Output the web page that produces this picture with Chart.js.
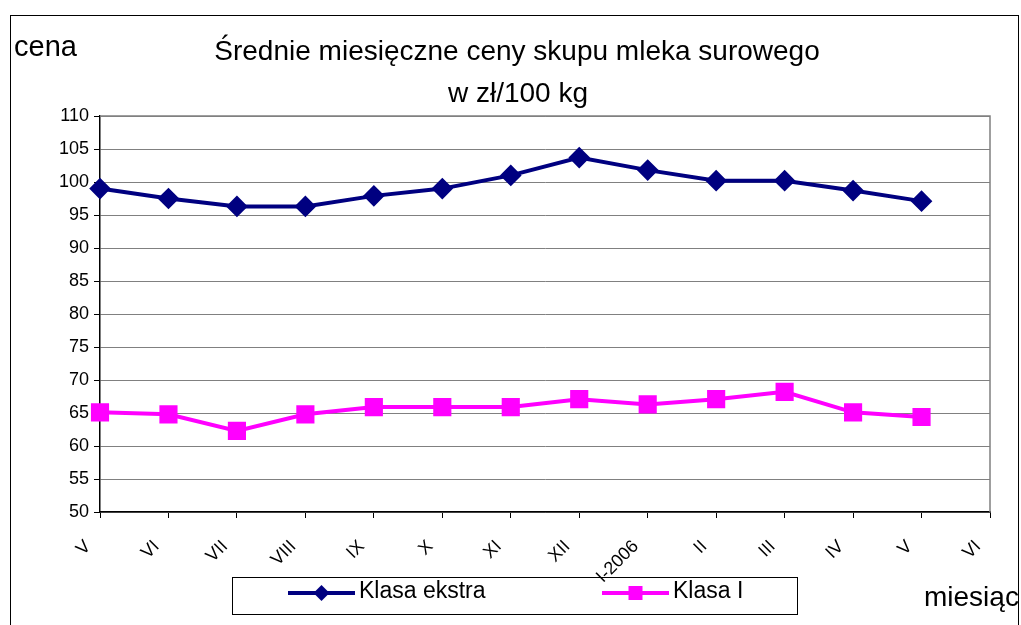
<!DOCTYPE html>
<html>
<head>
<meta charset="utf-8">
<script src="https://cdn.jsdelivr.net/npm/chart.js@4"></script>
<style>
  html, body { margin: 0; padding: 0; background: #fff; }
  #wrap { width: 1021px; height: 625px; position: relative; }
</style>
</head>
<body>
<div id="wrap"><canvas id="milkChart"></canvas></div>
<script>
// --- data ---
const months = ['V', 'VI', 'VII', 'VIII', 'IX', 'X', 'XI', 'XII', 'I-2006', 'II', 'III', 'IV', 'V', 'VI'];
const klasaEkstra = [99.0, 97.5, 96.3, 96.3, 97.9, 99.0, 101.0, 103.7, 101.8, 100.2, 100.2, 98.7, 97.1, null];
const klasaI = [65.1, 64.8, 62.3, 64.8, 65.9, 65.9, 65.9, 67.1, 66.3, 67.1, 68.2, 65.1, 64.4, null];
const seriesNames = ['Klasa ekstra', 'Klasa I'];
const titleLines = ['Średnie miesięczne ceny skupu mleka surowego', 'w zł/100 kg'];

const FONT = "'Liberation Sans', Arial, sans-serif";
Chart.defaults.font.family = FONT;
Chart.defaults.color = '#000';

// frame, title, axis names and the boxed legend (Excel style)
const excelDecor = {
  id: 'excelDecor',
  beforeDraw(chart) {
    const c = chart.ctx;
    c.save();
    c.strokeStyle = '#000';
    c.lineWidth = 1;
    c.strokeRect(10.5, 15.5, 1008, 640);
    c.restore();
  },
  afterDraw(chart) {
    const c = chart.ctx;
    const area = chart.chartArea;
    c.save();
    // plot area top/right edge
    c.strokeStyle = '#808080';
    c.lineWidth = 1.5;
    c.beginPath();
    c.moveTo(area.left, area.top);
    c.lineTo(area.right, area.top);
    c.lineTo(area.right, area.bottom);
    c.stroke();

    c.fillStyle = '#000';
    c.textBaseline = 'middle';
    c.font = '28px ' + FONT;
    c.textAlign = 'center';
    c.fillText(titleLines[0], 517, 52);
    c.fillText(titleLines[1], 518, 94);
    c.textAlign = 'left';
    c.font = '29px ' + FONT;
    c.fillText('cena', 14, 48);
    c.font = '28px ' + FONT;
    c.fillText('miesiąc', 924, 598);

    // legend box
    c.strokeStyle = '#000';
    c.lineWidth = 1;
    c.strokeRect(232.5, 577.5, 565, 37);
    const items = [{x1: 288, x2: 355}, {x1: 602, x2: 669}];
    const y = 593;
    c.font = '23px ' + FONT;
    chart.data.datasets.forEach((ds, i) => {
      const it = items[i];
      const cx = (it.x1 + it.x2) / 2;
      c.strokeStyle = ds.borderColor;
      c.lineWidth = 4;
      c.beginPath();
      c.moveTo(it.x1, y);
      c.lineTo(it.x2, y);
      c.stroke();
      c.fillStyle = ds.backgroundColor;
      c.beginPath();
      if (ds.pointStyle === 'rectRot') {
        c.moveTo(cx, y - 8); c.lineTo(cx + 8, y); c.lineTo(cx, y + 8); c.lineTo(cx - 8, y);
        c.closePath();
      } else {
        c.rect(cx - 7, y - 7, 14, 14);
      }
      c.fill();
      c.fillStyle = '#000';
      c.fillText(ds.label, it.x2 + 4, y - 1);
    });
    c.restore();
  }
};

new Chart(document.getElementById('milkChart').getContext('2d'), {
  type: 'line',
  data: {
    labels: months,
    datasets: [
      {
        label: seriesNames[0],
        data: klasaEkstra,
        borderColor: '#000080',
        backgroundColor: '#000080',
        borderWidth: 4,
        pointStyle: 'rectRot',
        pointRadius: 8,
        pointHoverRadius: 8,
        tension: 0
      },
      {
        label: seriesNames[1],
        data: klasaI,
        borderColor: '#ff00ff',
        backgroundColor: '#ff00ff',
        borderWidth: 4,
        pointStyle: 'rect',
        pointRadius: 10,
        pointHoverRadius: 10,
        tension: 0
      }
    ]
  },
  options: {
    responsive: true,
    maintainAspectRatio: false,
    animation: false,
    layout: { padding: { top: 116, left: 0, right: 31, bottom: 0 } },
    plugins: {
      legend: { display: false },
      title: { display: false },
      tooltip: { enabled: false }
    },
    scales: {
      x: {
        offset: false,
        afterFit: (scale) => {
          scale.height = 113;
          scale.paddingLeft = 0;
          scale.paddingRight = 0;
        },
        grid: { drawOnChartArea: false, drawTicks: true, tickLength: 6, color: '#000' },
        border: { color: '#000', width: 1.5 },
        ticks: { minRotation: 45, maxRotation: 45, autoSkip: false, padding: 18, labelOffset: -12, font: { size: 18 }, color: '#000' }
      },
      y: {
        min: 50,
        max: 110,
        afterFit: (scale) => { scale.width = 100; },
        grid: { color: '#808080', lineWidth: 1, tickLength: 6, tickColor: '#000' },
        border: { color: '#000', width: 1.5 },
        ticks: { stepSize: 5, padding: 5, font: { size: 18 }, color: '#000' }
      }
    }
  },
  plugins: [excelDecor]
});
</script>
</body>
</html>
